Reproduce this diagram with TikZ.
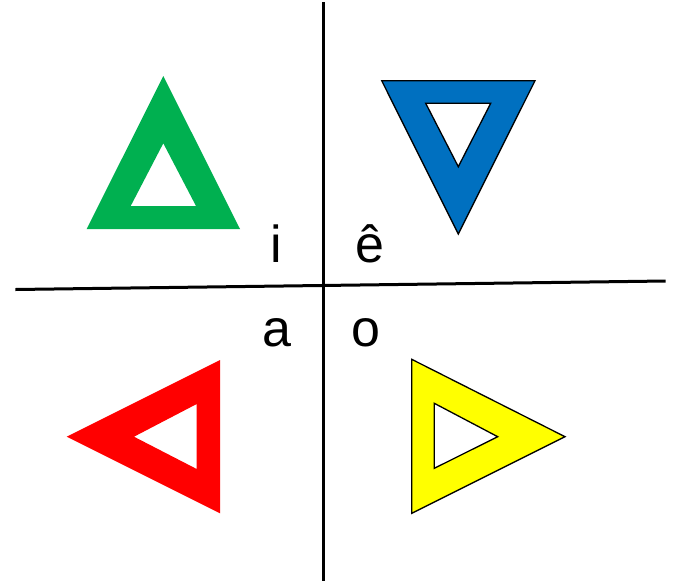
\documentclass[tikz,border=0pt]{standalone}
\usepackage{fontspec}
\setmainfont{Liberation Sans}
\definecolor{tgreen}{HTML}{00B050}
\definecolor{tblue}{HTML}{0070C0}
\definecolor{tred}{HTML}{FF0000}
\definecolor{tyellow}{HTML}{FFFF00}
\begin{document}
\begin{tikzpicture}[x=1pt,y=-1pt,
  axis/.style={line width=3pt,black},
  ring/.style={even odd rule},
  outlined/.style={draw=black,line width=1.3pt,line join=miter},
  lab/.style={anchor=base,inner sep=0pt,font=\fontsize{52}{60}\selectfont}]
\useasboundingbox (0,0) rectangle (679,581);
\fill[white] (0,0) rectangle (679,581);
% axes
\coordinate (vt) at (323.7,2);
\coordinate (vb) at (323.7,581);
\coordinate (hl) at (15.3,289.5);
\coordinate (hr) at (665.7,281);
\draw[axis] (vt) -- (vb);
\draw[axis] (hl) -- (hr);
% green triangle (up)
\fill[tgreen,ring] (163.3,76) -- (86.7,229) -- (240,229) -- cycle
  (163.3,143.3) -- (130.7,206) -- (196,206) -- cycle;
% blue triangle (down)
\filldraw[fill=tblue,outlined,ring] (381.7,80.7) -- (535,80.7) -- (458.3,234) -- cycle
  (425.7,103.3) -- (490.7,103.3) -- (458.3,166.7) -- cycle;
% red triangle (left)
\fill[tred,ring] (66.7,436.7) -- (220,360) -- (220,513.3) -- cycle
  (134,436.7) -- (196.7,404) -- (196.7,469) -- cycle;
% yellow triangle (right)
\filldraw[fill=tyellow,outlined,ring] (411.7,359.3) -- (565,436.7) -- (411.7,513.3) -- cycle
  (434.3,403.3) -- (497.7,436.7) -- (434.3,468.3) -- cycle;
% labels
\node[lab] (li) at (276.7,262.5) {i};
\node[lab] (le) at (370,262.5) {ê};
\node[lab] (la) at (276.7,346.5) {a};
\node[lab] (lo) at (366,346.5) {o};
\end{tikzpicture}
\end{document}
